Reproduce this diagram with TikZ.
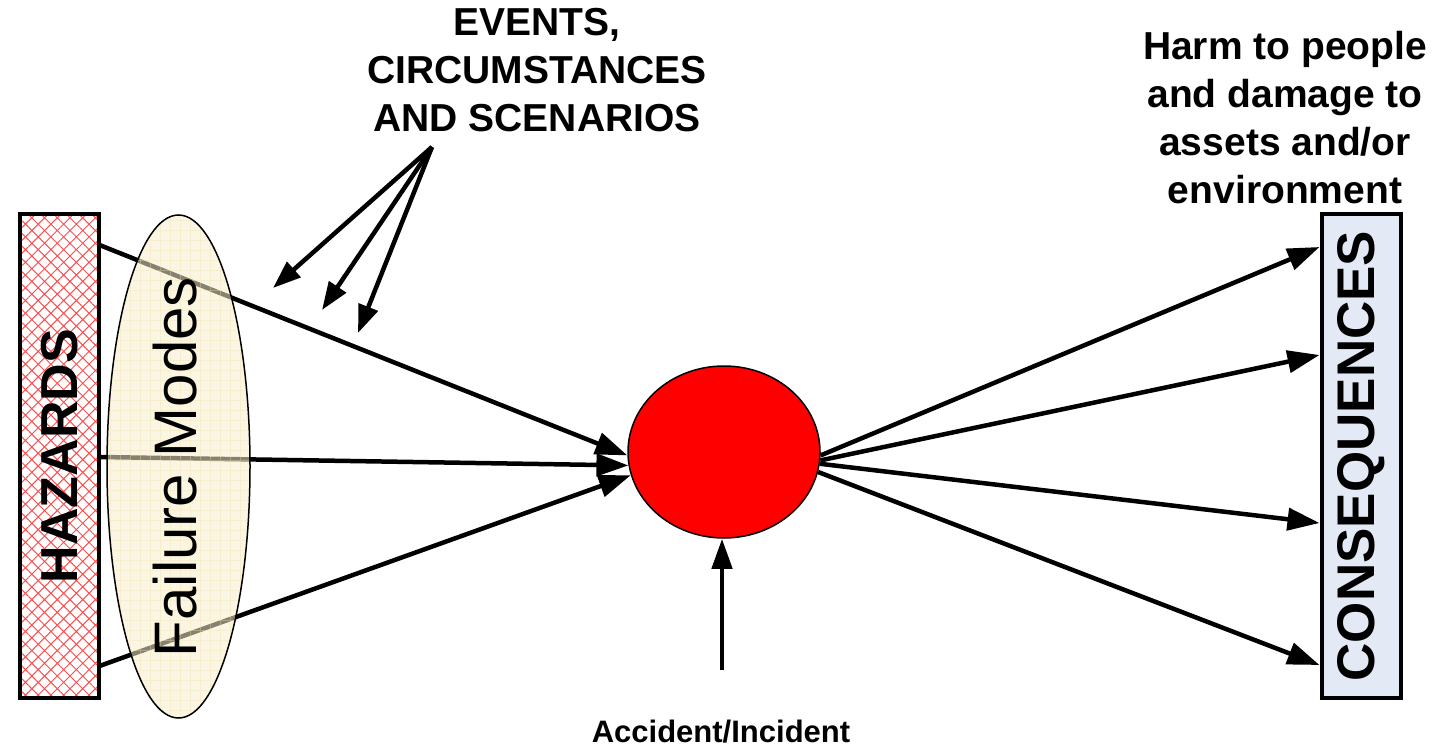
\documentclass[tikz,border=0pt]{standalone}
\usepackage{fontspec}
\setmainfont{Liberation Sans}
\usetikzlibrary{arrows.meta,patterns.meta,calc,shapes.geometric}
\definecolor{cream}{RGB}{247,237,204}
\definecolor{gridcream}{RGB}{240,226,170}
\definecolor{lightblue}{RGB}{227,234,246}
\definecolor{hatchred}{RGB}{250,80,80}
\begin{document}
\begin{tikzpicture}[x=1pt,y=-1pt,
  conn/.style={line width=4.5pt,-{Triangle[length=32pt,width=22pt]}},
  evarrow/.style={line width=4.5pt,-{Triangle[length=28pt,width=20pt]}},
  sidebox/.style={draw,line width=4pt,rotate=90,minimum width=484pt,minimum height=79pt,inner sep=0pt,
    font=\bfseries\fontsize{52}{52}\selectfont},
  label/.style={font=\bfseries\fontsize{39}{48}\selectfont,align=center,inner sep=0pt}
]
\useasboundingbox (0,0) rectangle (1447,746);

% boxes
\node[sidebox,preaction={fill=white},pattern={Hatch[angle=45,distance=9pt,line width=1pt]},pattern color=hatchred] (haz) at (59.5,456) {HAZARDS};
\node[sidebox,fill=lightblue,font=\bfseries\fontsize{53}{53}\selectfont] (cons) at (1361,456) {CONSEQUENCES};

% central event
\node[ellipse,draw,line width=1.5pt,fill=red,minimum width=192pt,minimum height=172pt,inner sep=0pt] (acc) at (724,452) {};

% hazards to event
\draw[conn] ($(haz.south)+(0,-211)$) -- (acc.182);
\draw[conn] ($(haz.south)+(0,1)$) -- (acc.188);
\draw[conn] ($(haz.south)+(0,210)$) -- (acc.194);

% failure modes ellipse over lines
\node[ellipse,fill=cream,fill opacity=0.55,minimum width=143pt,minimum height=503pt,inner sep=0pt] (fm) at (178.5,466.5) {};
\begin{scope}
  \clip (178.5,466.5) ellipse [x radius=71.5pt,y radius=251.5pt];
  \draw[gridcream,line width=0.5pt,opacity=0.35] (100,210) grid[step=10pt] (260,725);
\end{scope}
\draw[line width=1.5pt] (fm.center) ellipse [x radius=71.5pt,y radius=251.5pt];
\node[rotate=90,font=\fontsize{60}{60}\selectfont,inner sep=0pt] (fmt) at (175,467) {Failure Modes};

% event to consequences
\draw[conn] (acc.358) -- ($(cons.north)+(0,-209)$);
\draw[conn] (acc.355) -- ($(cons.north)+(0,-101)$);
\draw[conn] (acc.353) -- ($(cons.north)+(0,67)$);
\draw[conn] (acc.348) -- ($(cons.north)+(0,209)$);

% events label and arrows
\node[label,anchor=north] (events) at (537,8) {EVENTS,\\CIRCUMSTANCES\\AND SCENARIOS};
\coordinate (ev) at (432,147);
\coordinate (e1) at (273,288);
\coordinate (e2) at (322,310);
\coordinate (e3) at (358,333);
\draw[evarrow] (ev) -- (e1);
\draw[evarrow] (ev) -- (e2);
\draw[evarrow] (ev) -- (e3);

% harm label
\node[label,anchor=north] (harm) at (1285,31.5) {Harm to people\\and damage to\\assets and/or\\environment};

% accident arrow and label
\coordinate (ai) at (722,670);
\draw[conn,-{Triangle[length=30pt,width=20pt]}] (ai) -- (acc.south -| ai);
\node[font=\bfseries\fontsize{31}{31}\selectfont,anchor=base,inner sep=0pt] (acclabel) at (721,742) {Accident/Incident};
\end{tikzpicture}
\end{document}
